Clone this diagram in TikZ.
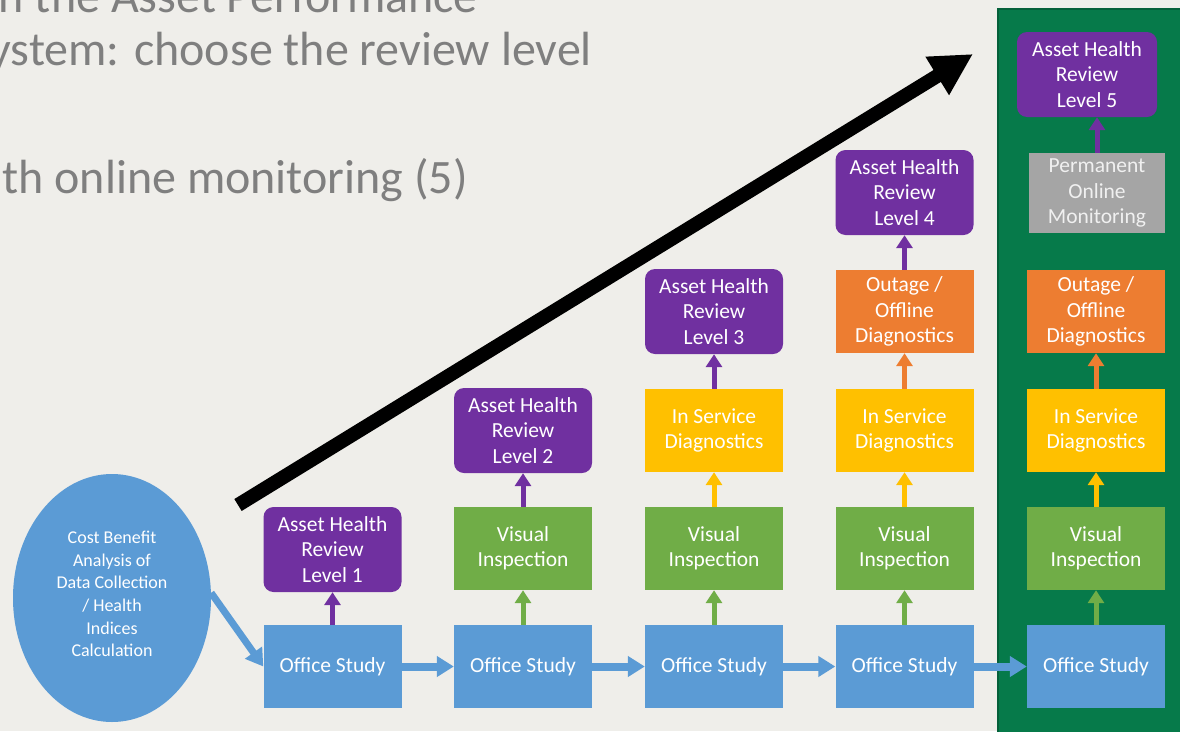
\documentclass[tikz,border=0pt]{standalone}
\usepackage{fontspec}
\setmainfont{Carlito}
\usetikzlibrary{arrows.meta,shapes.geometric}
\definecolor{bgc}{HTML}{EFEEEA}
\definecolor{cblue}{HTML}{5B9BD5}
\definecolor{cgreen}{HTML}{70AD47}
\definecolor{cyellow}{HTML}{FFC000}
\definecolor{corange}{HTML}{ED7D31}
\definecolor{cpurple}{HTML}{7030A0}
\definecolor{cgray}{HTML}{A5A5A5}
\definecolor{cpanel}{HTML}{067A4A}
\definecolor{cpaneledge}{HTML}{05603A}
\definecolor{ctitle}{HTML}{7F7F7F}
\begin{document}
\begin{tikzpicture}[x=1pt,y=-1pt,
  box/.style={minimum width=138pt,minimum height=83pt,inner sep=0pt,align=center,
    text=white,font=\fontsize{21.5}{25.5}\selectfont},
  office/.style={box,fill=cblue},
  visual/.style={box,fill=cgreen},
  service/.style={box,fill=cyellow},
  outage/.style={box,fill=corange},
  review/.style={box,fill=cpurple,rounded corners=10pt,minimum height=85pt},
  uparrow/.style={line width=5pt,-{Triangle[length=13pt,width=16pt]}},
  flow/.style={draw=cblue,line width=8pt,-{Triangle[length=17pt,width=20pt]}},
  titletext/.style={anchor=base east,inner sep=0pt,text=ctitle,font=\fontsize{48}{57}\selectfont},
]
\useasboundingbox (0,0) rectangle (1180,731);
\clip (0,0) rectangle (1180,731);
\fill[bgc] (0,0) rectangle (1180,731);

% green panel behind the last column
\fill[cpanel] (998,9) rectangle (1182,733);
\draw[cpaneledge,line width=1.5pt] (998,733) -- (998,9) -- (1182,9);

% heading lines, running off the left and top edges
\node[titletext] (t1) at (478,12) {n the Asset Performance};
\node[titletext] (t2) at (592,65) {ystem: choose the review level};
\node[titletext] (t3) at (468,193) {th online monitoring (5)};

% rising arrow
\coordinate (rs) at (238,505);
\coordinate (re) at (973,54);
\draw[line width=14pt,-{Triangle[length=42pt,width=42pt]}] (rs) -- (re);

% cost benefit ellipse
\node[ellipse,fill=cblue,minimum width=198pt,minimum height=248pt,inner sep=0pt] (ell) at (112,598) {};
\node[align=center,text=white,inner sep=0pt,font=\fontsize{18}{22.6}\selectfont] (ellt) at (112,594)
  {Cost Benefit\\Analysis of\\Data Collection\\/ Health\\Indices\\Calculation};

% column 1
\node[office] (os1) at (332.5,666.5) {Office Study};
\node[review] (l1) at (332.5,549.5) {Asset Health\\Review\\Level 1};

% column 2
\node[office] (os2) at (523,666.5) {Office Study};
\node[visual] (v2) at (523,548.5) {Visual\\Inspection};
\node[review] (l2) at (523,430.5) {Asset Health\\Review\\Level 2};

% column 3
\node[office] (os3) at (714,666.5) {Office Study};
\node[visual] (v3) at (714,548.5) {Visual\\Inspection};
\node[service] (s3) at (714,430.5) {In Service\\Diagnostics};
\node[review] (l3) at (714,311.5) {Asset Health\\Review\\Level 3};

% column 4
\node[office] (os4) at (904.5,666.5) {Office Study};
\node[visual] (v4) at (904.5,548.5) {Visual\\Inspection};
\node[service] (s4) at (904.5,430.5) {In Service\\Diagnostics};
\node[outage] (o4) at (904.5,311.5) {Outage /\\Offline\\Diagnostics};
\node[review] (l4) at (904.5,192.5) {Asset Health\\Review\\Level 4};

% column 5
\node[office] (os5) at (1096,666.5) {Office Study};
\node[visual] (v5) at (1096,548.5) {Visual\\Inspection};
\node[service] (s5) at (1096,430.5) {In Service\\Diagnostics};
\node[outage] (o5) at (1096,311.5) {Outage /\\Offline\\Diagnostics};
\node[box,fill=cgray,text=white!94!black,minimum width=136pt,minimum height=80pt] (pm) at (1097,193)
  {Permanent\\Online\\Monitoring};
\node[review,minimum width=140pt] (l5) at (1087,74.5) {Asset Health\\Review\\Level 5};

% flow between office studies
\draw[flow,line width=7pt] (ell.3) -- (os1.west);
\draw[flow] (os1) -- (os2);
\draw[flow] (os2) -- (os3);
\draw[flow] (os3) -- (os4);
\draw[flow] (os4) -- (os5);

% upward steps
\draw[uparrow,cpurple] (os1) -- (l1);
\draw[uparrow,cgreen] (os2) -- (v2);
\draw[uparrow,cpurple] (v2) -- (l2);
\draw[uparrow,cgreen] (os3) -- (v3);
\draw[uparrow,cyellow] (v3) -- (s3);
\draw[uparrow,cpurple] (s3) -- (l3);
\draw[uparrow,cgreen] (os4) -- (v4);
\draw[uparrow,cyellow] (v4) -- (s4);
\draw[uparrow,corange] (s4) -- (o4);
\draw[uparrow,cpurple] (o4) -- (l4);
\draw[uparrow,cgreen] (os5) -- (v5);
\draw[uparrow,cyellow] (v5) -- (s5);
\draw[uparrow,corange] (s5) -- (o5);
\draw[uparrow,cpurple] (pm.north) -- (pm.north |- l5.south);
\end{tikzpicture}
\end{document}
